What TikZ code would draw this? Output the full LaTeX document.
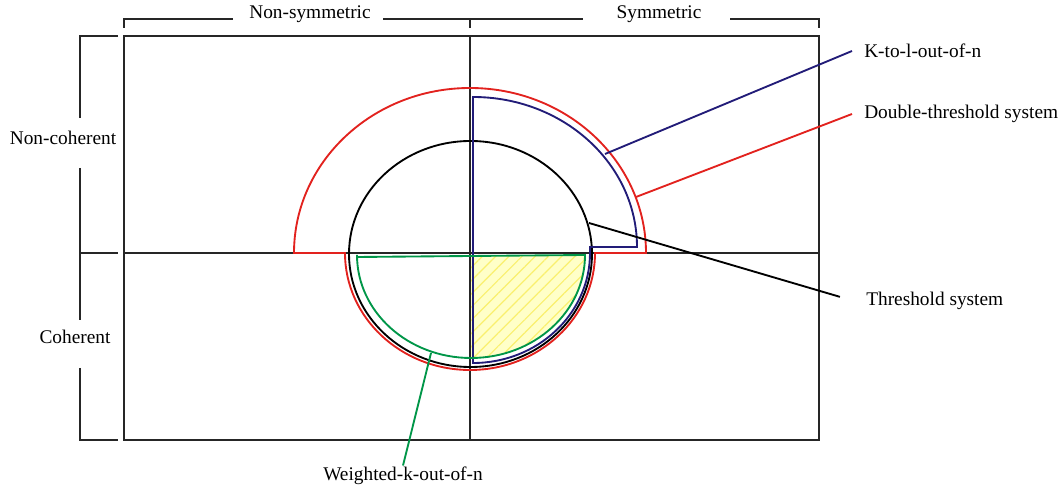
\documentclass[tikz,border=0pt]{standalone}
\usepackage{fontspec}
\setmainfont{Liberation Serif}
\usetikzlibrary{patterns.meta}
\definecolor{redline}{RGB}{226,34,30}
\definecolor{blueline}{RGB}{34,28,120}
\definecolor{greenline}{RGB}{0,150,72}
\definecolor{hatchfill}{RGB}{255,255,200}
\definecolor{hatchline}{RGB}{250,240,110}
\begin{document}
\begin{tikzpicture}[
  x=0.75pt, y=0.75pt,
  frame/.style={line width=1.2pt, black!85},
  thr/.style={line width=1.4pt, black},
  dbl/.style={line width=1.4pt, redline},
  ktl/.style={line width=1.4pt, blueline},
  wkn/.style={line width=1.4pt, greenline},
  lab/.style={font=\fontsize{14.5}{17}\selectfont, inner ysep=1pt, inner xsep=9pt}
]
  \useasboundingbox (0,0) rectangle (1060,488);

  \fill[hatchfill, postaction={pattern={Lines[angle=45,distance=7pt,line width=0.9pt]}, pattern color=hatchline}]
    (471,232) -- (585,233) arc[start angle=0, end angle=-90, x radius=114, y radius=103] -- cycle;

  \draw[frame] (124,48) rectangle (819,452);
  \draw[frame] (470,48) -- (470,452);
  \draw[frame] (124,235) -- (819,235);
  \draw[frame] (118,452) -- (80,452) -- (80,370) (80,320) -- (80,168)
    (80,120) -- (80,48) -- (118,48) (80,235) -- (118,235);
  \draw[frame] (124,460) -- (124,469) -- (233,469) (383,469) -- (583,469)
    (470,469) -- (470,460) (730,469) -- (819,469) -- (819,460);

  \draw[thr] (470.5,234) ellipse [x radius=121.5, y radius=113];
  \draw[dbl] (294,235) arc[start angle=180, end angle=0, x radius=176, y radius=165]
    -- (595,235) arc[start angle=0, end angle=-180, x radius=125, y radius=117] -- cycle;
  \draw[ktl] (473,391) arc[start angle=90, end angle=0, x radius=164, y radius=150]
    -- (590,241) -- (590,235) arc[start angle=0, end angle=-90, x radius=117, y radius=110] -- cycle;
  \draw[wkn] (585,233) arc[start angle=0, end angle=-180, x radius=114, y radius=103] -- (357,231) -- cycle;

  \node[lab] (nsym) at (310,474) {Non-symmetric};
  \node[lab] (sym) at (659,474) {Symmetric};
  \node[lab] (ncoh) at (63,350) {Non-coherent};
  \node[lab] (coh) at (75,151) {Coherent};
  \node[lab, anchor=west] (klab) at (852,437) {K-to-l-out-of-n};
  \node[lab, anchor=west] (dlab) at (852,374) {Double-threshold system};
  \node[lab, anchor=west] (tlab) at (854,187) {Threshold system};
  \node[lab, inner xsep=1pt] (wlab) at (403,12) {Weighted-k-out-of-n};

  \coordinate (kpt) at (605,334);
  \coordinate (dpt) at (636,291);
  \coordinate (tpt) at (589,265);
  \coordinate (wpt) at (431,135);
  \draw[ktl] (kpt) -- (klab.west);
  \draw[dbl] (dpt) -- (dlab.west);
  \draw[thr, shorten >=11pt] (tpt) -- (tlab.west);
  \draw[wkn] (wpt) -- (wlab.north);
\end{tikzpicture}
\end{document}
